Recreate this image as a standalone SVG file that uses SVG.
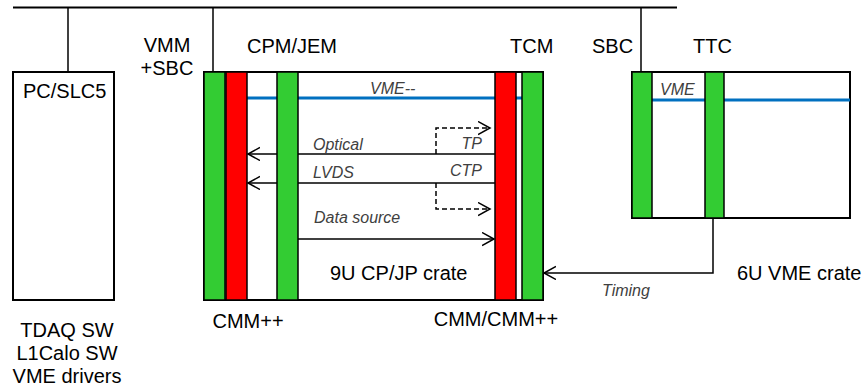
<svg xmlns="http://www.w3.org/2000/svg" width="864" height="388" viewBox="0 0 864 388">
<style>
.lbl{font-family:"Liberation Sans",Arial,sans-serif;font-size:20px;fill:#000}
.it{font-family:"Liberation Sans",Arial,sans-serif;font-size:16px;font-style:italic;fill:#404040}
.box{fill:#fff;stroke:#000;stroke-width:2}
.grn{fill:#33CC33;stroke:#000;stroke-width:1.5}
.red{fill:#FF0000;stroke:#000;stroke-width:1.5}
.wire{fill:none;stroke:#000;stroke-width:1.5}
.vme{fill:none;stroke:#0070C0;stroke-width:3}
.dash{fill:none;stroke:#000;stroke-width:1.5;stroke-dasharray:5 3}
</style>
<defs>
<marker id="arr" markerUnits="userSpaceOnUse" markerWidth="16" markerHeight="16" refX="12" refY="7" orient="auto" viewBox="0 0 16 16">
<path d="M0,0.5 L12,7 L0,13.5" fill="none" stroke="#000" stroke-width="1.5"/>
</marker>
</defs>
<rect width="864" height="388" fill="#fff"/>

<g id="bus">
<line x1="13" y1="7.5" x2="677" y2="7.5" stroke="#000" stroke-width="2"/>
<line x1="68" y1="7.5" x2="68" y2="72" class="wire"/>
<line x1="213" y1="7.5" x2="213" y2="72" class="wire"/>
<line x1="641" y1="7.5" x2="641" y2="72" class="wire"/>
</g>

<g id="pc">
<rect x="13" y="72" width="101" height="228" class="box"/>
<text x="23" y="98" class="lbl">PC/SLC5</text>
<text x="67" y="337" class="lbl" text-anchor="middle">TDAQ SW</text>
<text x="67" y="360" class="lbl" text-anchor="middle">L1Calo SW</text>
<text x="67" y="383" class="lbl" text-anchor="middle">VME drivers</text>
</g>

<g id="crate9u">
<rect x="204" y="72" width="339" height="228" class="box"/>
<text x="330" y="280" class="lbl">9U CP/JP crate</text>
</g>

<g id="crate6u">
<rect x="632" y="72" width="218" height="146" class="box"/>
<text x="737" y="280" class="lbl">6U VME crate</text>
</g>

<g id="connectors">
<line x1="247" y1="98" x2="522" y2="98" class="vme"/>
<text x="370" y="94" class="it">VME--</text>
<line x1="652" y1="100" x2="850" y2="100" class="vme"/>
<text x="660" y="95" class="it">VME</text>
<line x1="495" y1="154" x2="248" y2="154" class="wire" marker-end="url(#arr)"/>
<line x1="495" y1="183" x2="248" y2="183" class="wire" marker-end="url(#arr)"/>
<line x1="298" y1="239" x2="494" y2="239" class="wire" marker-end="url(#arr)"/>
<polyline points="436,154 436,128 490,128" class="dash" marker-end="url(#arr)"/>
<polyline points="436,183 436,209 490,209" class="dash" marker-end="url(#arr)"/>
<polyline points="713,218 713,273 544,273" class="wire" marker-end="url(#arr)"/>
<text x="313" y="150" class="it">Optical</text>
<text x="482" y="149" class="it" text-anchor="end">TP</text>
<text x="313" y="178" class="it">LVDS</text>
<text x="482" y="176" class="it" text-anchor="end">CTP</text>
<text x="314" y="223" class="it">Data source</text>
<text x="602" y="296" class="it">Timing</text>
</g>

<g id="vmm">
<rect x="204" y="72" width="21" height="228" class="grn"/>
<text x="167" y="52" class="lbl" text-anchor="middle">VMM</text>
<text x="167" y="75" class="lbl" text-anchor="middle">+SBC</text>
</g>
<g id="cmm-left">
<rect x="226" y="72" width="21" height="228" class="red"/>
<text x="248" y="328" class="lbl" text-anchor="middle">CMM++</text>
</g>
<g id="cpm">
<rect x="277" y="72" width="21" height="228" class="grn"/>
<text x="247" y="53" class="lbl">CPM/JEM</text>
</g>
<g id="cmm-right">
<rect x="495" y="72" width="21" height="228" class="red"/>
<text x="496" y="326" class="lbl" text-anchor="middle">CMM/CMM++</text>
</g>
<g id="tcm">
<rect x="522" y="72" width="21" height="228" class="grn"/>
<text x="510" y="53" class="lbl">TCM</text>
</g>
<g id="sbc">
<rect x="632" y="72" width="20" height="146" class="grn"/>
<text x="592" y="53" class="lbl">SBC</text>
</g>
<g id="ttc">
<rect x="705" y="72" width="19" height="146" class="grn"/>
<text x="693" y="53" class="lbl">TTC</text>
</g>
</svg>
